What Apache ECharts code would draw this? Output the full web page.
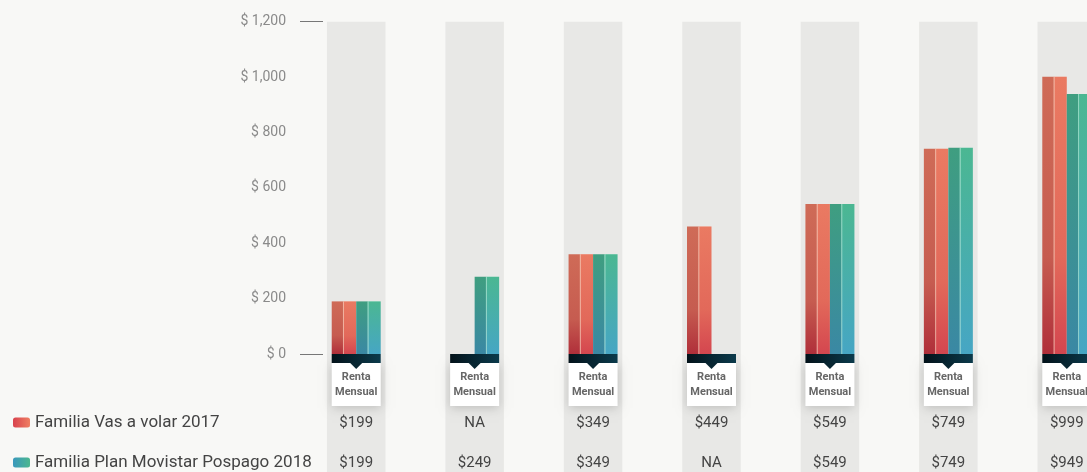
<!DOCTYPE html>
<html>
<head>
<meta charset="utf-8">
<script src="https://cdn.jsdelivr.net/npm/echarts@6/dist/echarts.min.js"></script>
<style>
  html, body { margin: 0; padding: 0; background: #f8f8f6; }
  #main { width: 1087px; height: 472px; }
</style>
</head>
<body>
<div id="main"></div>
<script>
// datos
var categories = ['Renta Mensual', 'Renta Mensual', 'Renta Mensual', 'Renta Mensual', 'Renta Mensual', 'Renta Mensual', 'Renta Mensual'];
var seriesNames = ['Familia Vas a volar 2017', 'Familia Plan Movistar Pospago 2018'];
// altura de las barras (tal como estan dibujadas)
var vasValues = [190, null, 360, 460, 542, 741, 1001];
var movValues = [190, 279, 360, null, 542, 745, 939];
// textos de las filas de precios
var vasLabels = ['$199', 'NA', '$349', '$449', '$549', '$749', '$999'];
var movLabels = ['$199', '$249', '$349', 'NA', '$549', '$749', '$949'];
var yTicks = [0, 1200];
var yMax = 1200;

var myChart = echarts.init(document.getElementById('main'));

var barW = 12.25;
var fontFam = 'Roboto, "Open Sans", sans-serif';

function grad(stops) {
  return new echarts.graphic.LinearGradient(0, 0, 0, 1, stops.map(function (s) {
    return { offset: s[0], color: s[1] };
  }));
}

// columnas grises de fondo
function renderColumn(params, api) {
  var i = api.value(0);
  var top = api.coord([i, yMax]);
  var w = api.size([1, 0])[0] * 0.494;
  return {
    type: 'rect',
    shape: { x: top[0] - w / 2, y: top[1], width: w, height: api.getHeight() - top[1] },
    style: { fill: '#e8e8e6' }
  };
}

// banda oscura, caja "Renta Mensual" y filas de precios
function renderBase(params, api) {
  var i = api.value(0);
  var base = api.coord([i, 0]);
  var cx = base[0], y0 = base[1];
  var bw = barW * 4;
  return {
    type: 'group',
    children: [
      {
        type: 'rect',
        shape: { x: cx - bw / 2, y: y0 + 9, width: bw, height: 43 },
        style: { fill: '#ffffff', shadowBlur: 10, shadowColor: 'rgba(0,0,0,0.18)', shadowOffsetY: 2 }
      },
      {
        type: 'rect',
        shape: { x: cx - bw / 2, y: y0, width: bw, height: 9 },
        style: {
          fill: new echarts.graphic.LinearGradient(0, 0, 1, 0, [
            { offset: 0, color: '#03121a' },
            { offset: 1, color: '#0b3a4b' }
          ])
        }
      },
      {
        type: 'polygon',
        shape: { points: [[cx - 6, y0 + 9], [cx + 6, y0 + 9], [cx, y0 + 15]] },
        style: { fill: '#082632' }
      },
      {
        type: 'text',
        style: {
          x: cx, y: y0 + 31, text: categories[i].replace(' ', '\n'),
          align: 'center', verticalAlign: 'middle', lineHeight: 15,
          fontSize: 11, fontWeight: 'bold', fontFamily: fontFam, fill: '#666'
        }
      },
      {
        type: 'text',
        style: {
          x: cx, y: y0 + 69, text: vasLabels[i], align: 'center', verticalAlign: 'middle',
          fontSize: 15, fontFamily: fontFam, fill: '#444'
        }
      },
      {
        type: 'text',
        style: {
          x: cx, y: y0 + 109, text: movLabels[i], align: 'center', verticalAlign: 'middle',
          fontSize: 15, fontFamily: fontFam, fill: '#444'
        }
      }
    ]
  };
}

var idx = categories.map(function (c, i) { return [i, yMax]; });

function legendItem(name, c0, c1, top) {
  return {
    orient: 'vertical',
    left: 8,
    top: top,
    itemWidth: 17,
    itemHeight: 10,
    icon: 'roundRect',
    textStyle: { fontSize: 17, color: '#444', fontFamily: fontFam },
    data: [{
      name: name,
      itemStyle: {
        shadowBlur: 0, shadowOffsetX: 0,
        color: new echarts.graphic.LinearGradient(0, 0, 1, 0, [
          { offset: 0, color: c0 }, { offset: 1, color: c1 }
        ])
      }
    }]
  };
}

var option = {
  backgroundColor: '#f8f8f6',
  animation: false,
  textStyle: { fontFamily: fontFam },
  grid: { left: 297, top: 21.7, bottom: 118, right: -39, outerBoundsMode: 'none' },
  legend: [
    legendItem(seriesNames[0], '#d8424d', '#ef7f63', 409),
    legendItem(seriesNames[1], '#3a98bc', '#4cb78f', 449)
  ],
  xAxis: {
    type: 'category',
    data: categories,
    axisLine: { show: false },
    axisTick: { show: false },
    axisLabel: { show: false }
  },
  yAxis: {
    type: 'value',
    min: 0,
    max: yMax,
    interval: 200,
    offset: -3,
    splitLine: { show: false },
    axisLine: { show: false },
    axisTick: { show: true, inside: true, length: 23, customValues: yTicks, lineStyle: { color: '#777' } },
    axisLabel: {
      margin: 14,
      color: '#8a8a8a',
      fontSize: 14,
      formatter: function (v) { return '$ ' + v.toLocaleString('en-US'); }
    }
  },
  series: [
    {
      type: 'custom', name: 'bg', renderItem: renderColumn, data: idx, clip: false, z: 0,
      encode: { x: 0, y: 1 }, silent: true
    },
    {
      type: 'bar', name: seriesNames[0], data: vasValues, barWidth: barW, barGap: 0, z: 2,
      itemStyle: { color: grad([[0, '#cf6b57'], [0.65, '#c65c50'], [1, '#b02f3a']]) }
    },
    {
      type: 'bar', name: seriesNames[0], data: vasValues, barWidth: barW, barGap: 0, z: 2,
      itemStyle: {
        color: grad([[0, '#ea7a62'], [0.65, '#e2695a'], [1, '#d4464f']]),
        shadowColor: 'rgba(255,210,190,0.7)', shadowOffsetX: -1, shadowBlur: 0
      }
    },
    {
      type: 'bar', name: seriesNames[1], data: movValues, barWidth: barW, barGap: 0, z: 2,
      itemStyle: { color: grad([[0, '#3f9e80'], [1, '#3a88a4']]) }
    },
    {
      type: 'bar', name: seriesNames[1], data: movValues, barWidth: barW, barGap: 0, z: 2,
      itemStyle: {
        color: grad([[0, '#4bb792'], [1, '#46a6c4']]),
        shadowColor: 'rgba(200,255,235,0.6)', shadowOffsetX: -1, shadowBlur: 0
      }
    },
    {
      type: 'custom', name: 'base', renderItem: renderBase, data: idx, clip: false, z: 5,
      encode: { x: 0, y: 1 }, silent: true
    }
  ]
};

myChart.setOption(option);
</script>
</body>
</html>
